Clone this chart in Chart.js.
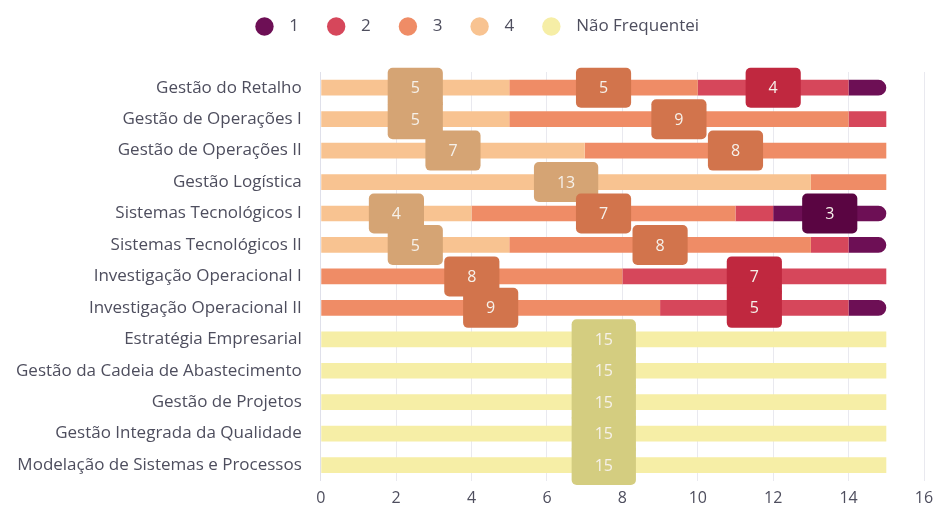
<!DOCTYPE html>
<html>
<head>
<meta charset="utf-8">
<script src="https://cdn.jsdelivr.net/npm/chart.js@4/dist/chart.umd.min.js"></script>
<style>
  html, body { margin: 0; padding: 0; background: #fff; }
  #wrap { width: 933px; height: 509px; }
</style>
</head>
<body>
<div id="wrap"><canvas id="chart"></canvas></div>
<script>
// categories (cadeiras)
const courses = [
  'Gestão do Retalho',
  'Gestão de Operações I',
  'Gestão de Operações II',
  'Gestão Logística',
  'Sistemas Tecnológicos I',
  'Sistemas Tecnológicos II',
  'Investigação Operacional I',
  'Investigação Operacional II',
  'Estratégia Empresarial',
  'Gestão da Cadeia de Abastecimento',
  'Gestão de Projetos',
  'Gestão Integrada da Qualidade',
  'Modelação de Sistemas e Processos'
];

// answers per rating
const rating4 = [5, 5, 7, 13, 4, 5, 0, 0, 0, 0, 0, 0, 0];
const rating3 = [5, 9, 8, 2, 7, 8, 8, 9, 0, 0, 0, 0, 0];
const rating2 = [4, 1, 0, 0, 1, 1, 7, 5, 0, 0, 0, 0, 0];
const rating1 = [1, 0, 0, 0, 3, 1, 0, 1, 0, 0, 0, 0, 0];
const notAttended = [0, 0, 0, 0, 0, 0, 0, 0, 15, 15, 15, 15, 15];

const xTicks = [0, 2, 4, 6, 8, 10, 12, 14, 16];
const legendOrder = ['1', '2', '3', '4', 'Não Frequentei'];

const FONT = "'Open Sans', sans-serif";
const TEXT = '#4e4e5e';

// rounded boxes with the value in the middle of each segment
const boxLabels = {
  id: 'boxLabels',
  afterDatasetsDraw(chart) {
    const ctx = chart.ctx;
    ctx.save();
    ctx.font = '16px ' + FONT;
    ctx.textAlign = 'center';
    ctx.textBaseline = 'middle';
    chart.data.datasets.forEach((ds, i) => {
      const meta = chart.getDatasetMeta(i);
      meta.data.forEach((bar, j) => {
        const v = ds.data[j];
        if (v < 3) return;
        const p = bar.getProps(['x', 'y', 'base'], true);
        const cx = (p.x + p.base) / 2;
        const w = ctx.measureText(String(v)).width + 46;
        const h = 40;
        ctx.fillStyle = ds.boxColor;
        ctx.beginPath();
        ctx.roundRect(cx - w / 2, p.y - h / 2, w, h, 5);
        ctx.fill();
        ctx.fillStyle = '#f6f1ea';
        ctx.fillText(String(v), cx, p.y + 1);
      });
    });
    ctx.restore();
  }
};

// extra room under the legend, and legend nudged a bit right
const legendSpace = {
  id: 'legendSpace',
  beforeInit(chart) {
    const fit = chart.legend.fit;
    chart.legend.fit = function () {
      fit.bind(chart.legend)();
      this.height += 27;
    };
  },
  beforeDraw(chart) {
    const lg = chart.legend;
    if (lg._shifted) return;
    lg.left += 11;
    lg.right += 11;
    lg._shifted = true;
  }
};

new Chart(document.getElementById('chart'), {
  type: 'bar',
  data: {
    labels: courses,
    datasets: [
      { label: '4', data: rating4, backgroundColor: '#f8c391', boxColor: '#d5a474' },
      { label: '3', data: rating3, backgroundColor: '#ef8c66', boxColor: '#d2744c' },
      { label: '2', data: rating2, backgroundColor: '#d6475b', boxColor: '#c0283f' },
      { label: '1', data: rating1, backgroundColor: '#6d0f55', boxColor: '#5a0542',
        borderRadius: 8 },
      { label: 'Não Frequentei', data: notAttended, backgroundColor: '#f6eea6', boxColor: '#d4cd80' }
    ]
  },
  options: {
    indexAxis: 'y',
    responsive: true,
    maintainAspectRatio: false,
    animation: false,
    layout: { padding: { top: 6, right: 4, left: 5, bottom: -7 } },
    datasets: { bar: { barPercentage: 0.5, categoryPercentage: 1 } },
    plugins: {
      legend: {
        position: 'top',
        labels: {
          usePointStyle: true,
          pointStyle: 'circle',
          boxWidth: 15,
          boxHeight: 13,
          padding: 12,
          color: TEXT,
          font: { family: FONT, size: 17 },
          generateLabels(chart) {
            const items = Chart.defaults.plugins.legend.labels.generateLabels(chart);
            items.sort((a, b) => legendOrder.indexOf(a.text) - legendOrder.indexOf(b.text));
            items.forEach((it, k) => {
              it.text = '  ' + it.text + (k < items.length - 1 ? '    ' : '');
            });
            return items;
          }
        }
      },
      tooltip: { enabled: false }
    },
    scales: {
      x: {
        stacked: true,
        min: 0,
        max: 16,
        afterBuildTicks: (axis) => { axis.ticks = xTicks.map(v => ({ value: v })); },
        afterFit: (axis) => { axis.paddingRight = 9; },
        grid: { color: '#e9e9ef', drawTicks: false },
        border: { display: false },
        ticks: { color: TEXT, font: { family: FONT, size: 16 }, padding: 8 }
      },
      y: {
        stacked: true,
        grid: { display: false },
        border: { display: true, color: '#dfe0ea' },
        ticks: { color: TEXT, font: { family: FONT, size: 17 }, padding: 11 }
      }
    }
  },
  plugins: [boxLabels, legendSpace]
});
</script>
</body>
</html>
